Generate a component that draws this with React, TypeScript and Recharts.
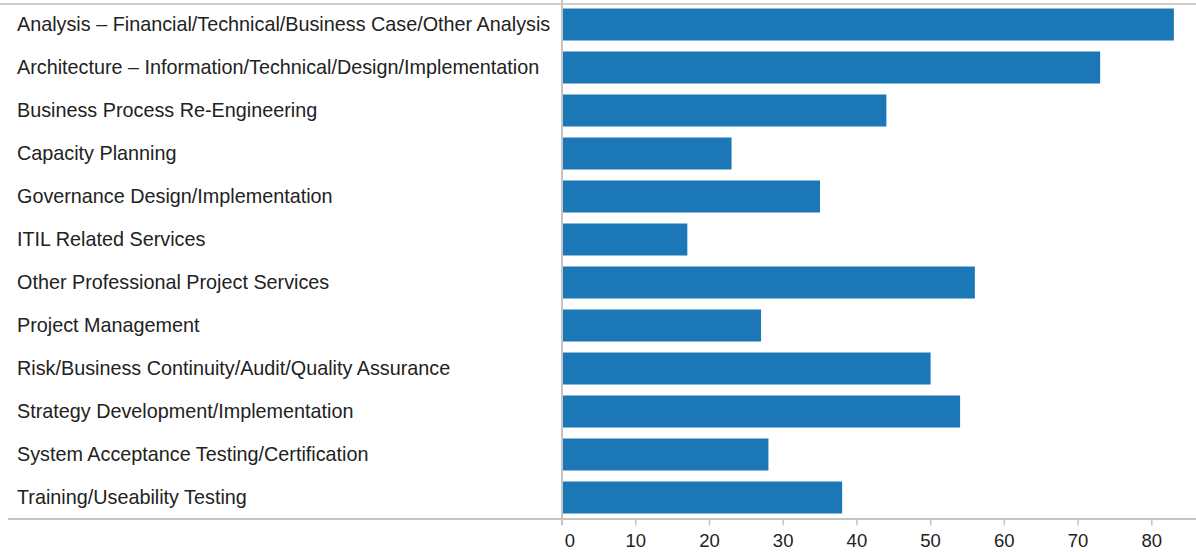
import { BarChart, Bar, XAxis, YAxis } from "recharts"

const categories = [
  "Analysis – Financial/Technical/Business Case/Other Analysis",
  "Architecture – Information/Technical/Design/Implementation",
  "Business Process Re-Engineering",
  "Capacity Planning",
  "Governance Design/Implementation",
  "ITIL Related Services",
  "Other Professional Project Services",
  "Project Management",
  "Risk/Business Continuity/Audit/Quality Assurance",
  "Strategy Development/Implementation",
  "System Acceptance Testing/Certification",
  "Training/Useability Testing",
]

const counts = [83, 73, 44, 23, 35, 17, 56, 27, 50, 54, 28, 38]

const xTicks = [0, 10, 20, 30, 40, 50, 60, 70, 80]

const data = categories.map((name, i) => ({ name, count: counts[i] }))

const FONT = "'Liberation Sans', Arial, sans-serif"
const LINE = "#c4c4c4"

function CategoryTick({ y, payload }: any) {
  return (
    <text x={17} y={y + 7.4} textAnchor="start" fontSize={19.8} fontFamily={FONT} fill="#222">
      {payload.value}
    </text>
  )
}

function ValueTick({ x, y, payload }: any) {
  const shift = payload.value === 0 ? 8 : 0
  return (
    <text x={x + shift} y={y + 19.5} textAnchor="middle" fontSize={18.5} fontFamily={FONT} fill="#222">
      {payload.value}
    </text>
  )
}

export default function App() {
  return (
    <div style={{ position: "absolute", left: 0, top: 0, width: 1196, height: 552, background: "#fff" }}>
      <BarChart
        width={1196}
        height={552}
        data={data}
        layout="vertical"
        margin={{ top: 2.4, right: 0, left: 0, bottom: 0 }}
      >
        <XAxis
          type="number"
          domain={[0, 86]}
          ticks={xTicks}
          height={33.5}
          axisLine={false}
          tickLine={{ stroke: LINE, strokeWidth: 1.5 }}
          tickSize={7}
          tick={<ValueTick />}
        />
        <YAxis
          type="category"
          dataKey="name"
          width={562}
          interval={0}
          axisLine={false}
          tickLine={false}
          tick={<CategoryTick />}
        />
        <Bar dataKey="count" fill="#1b77b5" barSize={32} isAnimationActive={false} />
      </BarChart>
      <div style={{ position: "absolute", left: 0, top: 2.5, width: 1196, height: 2, background: "#cfcfcf" }} />
      <div style={{ position: "absolute", left: 8, top: 517.5, width: 1188, height: 2, background: LINE }} />
      <div style={{ position: "absolute", left: 561, top: 0, width: 2, height: 525, background: LINE }} />
    </div>
  )
}
